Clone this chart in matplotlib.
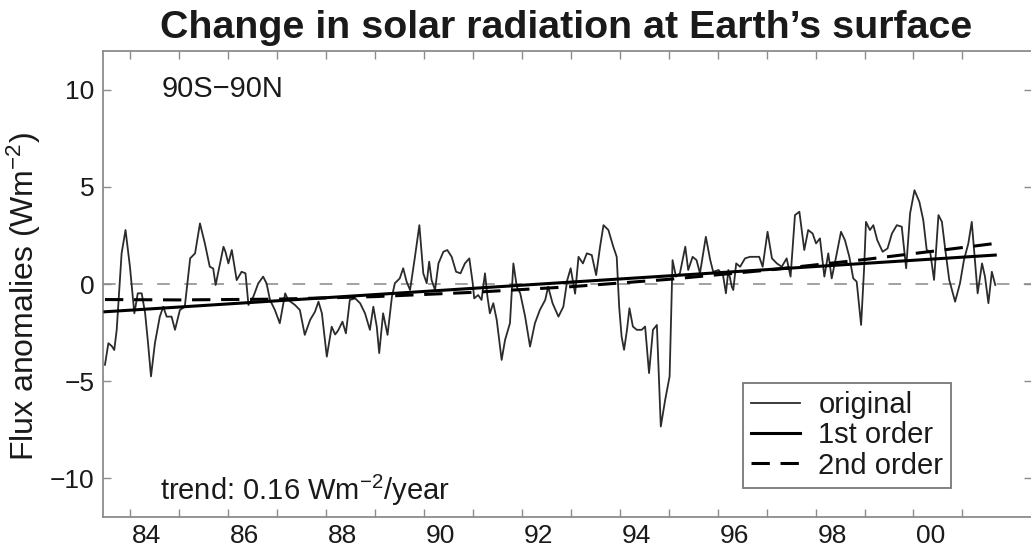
import matplotlib
matplotlib.use("Agg")
import matplotlib.pyplot as plt

plt.rcParams["font.family"] = ["Liberation Sans", "DejaVu Sans"]
plt.rcParams["mathtext.fontset"] = "custom"
plt.rcParams["mathtext.rm"] = "Liberation Sans"
plt.rcParams["mathtext.it"] = "Liberation Sans:italic"
plt.rcParams["mathtext.bf"] = "Liberation Sans:bold"

# monthly-ish anomalies (decimal year, W m-2)
years = [
    1983.49, 1983.56, 1983.63, 1983.68, 1983.73, 1983.83, 1983.91, 1984.00,
    1984.09, 1984.16, 1984.24, 1984.31, 1984.37, 1984.43, 1984.51, 1984.61,
    1984.68, 1984.75, 1984.85, 1984.92, 1985.02, 1985.12, 1985.23, 1985.33,
    1985.43, 1985.53, 1985.63, 1985.70, 1985.75, 1985.84, 1985.91, 1985.95,
    1986.01, 1986.08, 1986.18, 1986.28, 1986.36, 1986.42, 1986.52, 1986.62,
    1986.72, 1986.79, 1986.86, 1986.96, 1987.06, 1987.17, 1987.23, 1987.37,
    1987.47, 1987.57, 1987.68, 1987.78, 1987.85, 1987.92, 1988.02, 1988.12,
    1988.19, 1988.25, 1988.34, 1988.41, 1988.49, 1988.60, 1988.70, 1988.80,
    1988.90, 1988.97, 1989.04, 1989.09, 1989.17, 1989.26, 1989.35, 1989.41,
    1989.51, 1989.58, 1989.65, 1989.72, 1989.82, 1989.91, 1989.99, 1990.06,
    1990.11, 1990.16, 1990.23, 1990.30, 1990.40, 1990.48, 1990.57, 1990.66,
    1990.75, 1990.84, 1990.93, 1991.00, 1991.03, 1991.11, 1991.18, 1991.25,
    1991.30, 1991.35, 1991.42, 1991.49, 1991.59, 1991.66, 1991.76, 1991.83,
    1991.90, 1991.97, 1992.07, 1992.17, 1992.27, 1992.37, 1992.48, 1992.54,
    1992.63, 1992.75, 1992.85, 1992.93, 1993.00, 1993.09, 1993.16, 1993.25,
    1993.33, 1993.43, 1993.52, 1993.60, 1993.67, 1993.77, 1993.87, 1993.94,
    1993.99, 1994.04, 1994.09, 1994.15, 1994.20, 1994.27, 1994.35, 1994.45,
    1994.52, 1994.60, 1994.68, 1994.76, 1994.84, 1994.93, 1995.02, 1995.08,
    1995.15, 1995.23, 1995.34, 1995.40, 1995.49, 1995.57, 1995.64, 1995.76,
    1995.85, 1995.91, 1996.02, 1996.11, 1996.17, 1996.22, 1996.29, 1996.32,
    1996.38, 1996.46, 1996.56, 1996.66, 1996.77, 1996.85, 1996.92, 1997.02,
    1997.11, 1997.21, 1997.31, 1997.41, 1997.49, 1997.58, 1997.67, 1997.77,
    1997.85, 1997.94, 1998.01, 1998.09, 1998.18, 1998.26, 1998.33, 1998.42,
    1998.52, 1998.60, 1998.69, 1998.77, 1998.84, 1998.93, 1998.99, 1999.03,
    1999.11, 1999.18, 1999.26, 1999.37, 1999.47, 1999.56, 1999.66, 1999.76,
    1999.85, 1999.93, 2000.02, 2000.12, 2000.20, 2000.27, 2000.34, 2000.42,
    2000.51, 2000.58, 2000.65, 2000.73, 2000.85, 2000.95, 2001.03, 2001.12,
    2001.19, 2001.26, 2001.31, 2001.40, 2001.46, 2001.53, 2001.60, 2001.67,
]
flux = [
    -4.16, -3.05, -3.20, -3.40, -2.36, 1.58, 2.78, 0.89,
    -1.51, -0.48, -0.48, -1.50, -3.05, -4.76, -3.05, -1.68,
    -1.17, -1.68, -1.68, -2.36, -1.34, -1.17, 1.32, 1.58,
    3.12, 2.09, 0.89, 0.80, -0.05, 1.06, 1.92, 1.66,
    1.06, 1.75, 0.20, 0.63, 0.55, -1.08, -0.65, 0.03,
    0.38, 0.03, -0.82, -1.34, -2.02, -0.48, -0.82, -1.08,
    -1.34, -2.62, -1.85, -1.42, -0.91, -1.51, -3.74, -2.20,
    -2.60, -2.40, -1.94, -2.54, -0.82, -0.74, -0.99, -1.51,
    -2.36, -1.17, -2.19, -3.56, -1.51, -2.62, -0.65, 0.04,
    0.29, 0.81, 0.12, -0.31, 1.40, 3.03, 0.55, 0.04,
    1.15, 0.20, -0.31, 1.06, 1.66, 1.75, 1.40, 0.63,
    0.55, 1.06, 1.32, 0.04, -0.74, -0.57, -0.82, 0.55,
    -0.65, -1.51, -0.99, -1.85, -3.91, -2.88, -2.02, 1.06,
    -0.14, -0.48, -1.68, -3.22, -2.02, -1.34, -0.82, -0.14,
    -0.99, -1.68, -1.17, 0.20, 0.81, -0.50, 1.40, 1.06,
    1.58, 1.49, 0.46, 1.92, 3.03, 2.78, 1.92, 1.40,
    -1.17, -2.71, -3.39, -2.36, -1.25, -2.19, -2.36, -2.36,
    -2.19, -4.59, -2.36, -2.11, -7.34, -5.96, -4.76, 1.23,
    0.38, 0.55, 1.92, 0.72, 1.40, 1.23, 0.55, 2.43,
    1.23, 0.63, 0.72, 0.46, -0.48, 0.72, -0.14, -0.31,
    1.06, 0.89, 1.32, 1.40, 1.40, 1.40, 0.89, 2.69,
    1.32, 1.06, 0.89, 1.32, 0.38, 3.55, 3.72, 1.75,
    2.78, 2.60, 2.09, 2.35, 0.38, 1.58, 0.29, 1.40,
    2.69, 2.26, 1.40, 0.29, 0.12, -2.11, 0.72, 3.20,
    2.78, 3.03, 2.26, 1.66, 1.83, 2.60, 3.03, 2.95,
    0.81, 3.63, 4.83, 4.23, 3.29, 1.75, 1.66, 0.21,
    3.55, 3.20, 1.75, 0.21, -0.91, 0.04, 1.23, 2.09,
    3.20, 1.06, -0.48, 1.06, 0.38, -0.99, 0.63, -0.05,
]

# fitted curves
fit1_years = [1983.49, 2001.67]
fit1_flux = [-1.43, 1.49]
fit2_years = [1983.49, 1985.0, 1987.0, 1989.0, 1991.0, 1993.0,
              1995.0, 1997.0, 1999.0, 2000.5, 2001.67]
fit2_flux = [-0.80, -0.82, -0.78, -0.65, -0.43, -0.14,
             0.24, 0.71, 1.26, 1.72, 2.09]

tick_years = list(range(1984, 2002))
label_years = [1984.34, 1986.34, 1988.34, 1990.34, 1992.34,
               1994.34, 1996.34, 1998.34, 2000.34]
label_text = ["84", "86", "88", "90", "92", "94", "96", "98", "00"]
y_ticks = [-10, -5, 0, 5, 10]

txt = "#1a1a1a"
frame = "#8c8c8c"

fig = plt.figure(figsize=(10.31, 5.5), dpi=100)
ax = fig.add_axes([103 / 1031, 33 / 550, 929 / 1031, 466 / 550])

ax.axhline(0, color="#9a9a9a", lw=1.3, dashes=(7, 8), zorder=1)
ax.plot(years, flux, color="#2b2b2b", lw=1.3, label="original", zorder=2)
ax.plot(fit1_years, fit1_flux, color="black", lw=2.2, label="1st order", zorder=3)
ax.plot(fit2_years, fit2_flux, color="black", lw=2.2, dashes=(6, 3.5),
        label="2nd order", zorder=3)

ax.set_xlim(1983.45, 2002.42)
ax.set_ylim(-12, 12)

ax.set_xticks(tick_years)
ax.set_xticks(label_years, minor=True)
ax.set_xticklabels([])
ax.set_xticklabels(label_text, minor=True)
ax.tick_params(axis="x", which="major", direction="in", length=6, width=1,
               color=frame, top=True)
ax.tick_params(axis="x", which="minor", length=0, pad=5, labelsize=19,
               labelcolor=txt)
ax.set_yticks(y_ticks)
ax.tick_params(axis="y", direction="in", length=6, width=1, color=frame,
               right=True, labelsize=19, labelcolor=txt, pad=6)

for s in ax.spines.values():
    s.set_color(frame)
    s.set_linewidth(1.3)

ax.set_ylabel("Flux anomalies (Wm$^{-2}$)", fontsize=23, color=txt)
ax.yaxis.set_label_coords(-0.0646, 0.474)

ax.text(0.0635, 0.918, "90S\u221290N", transform=ax.transAxes, fontsize=21,
        color=txt, va="center", ha="left")
ax.text(0.061, 0.058, "trend: 0.16 Wm$^{-2}$/year", transform=ax.transAxes,
        fontsize=21, color=txt, va="center", ha="left")

leg = ax.legend(loc="upper left", bbox_to_anchor=(0.689, 0.288),
                borderaxespad=0, fontsize=21, handlelength=1.68,
                handletextpad=0.62, labelspacing=0.08, borderpad=0.28,
                fancybox=False, framealpha=1, edgecolor="#777777")
leg.get_frame().set_linewidth(1.3)
for t in leg.get_texts():
    t.set_color(txt)

fig.text(0.549, 1 - 38 / 550, "Change in solar radiation at Earth\u2019s surface",
         fontsize=28.4, fontweight="bold", color=txt, ha="center", va="baseline")

fig.savefig("out.png", dpi=100)
